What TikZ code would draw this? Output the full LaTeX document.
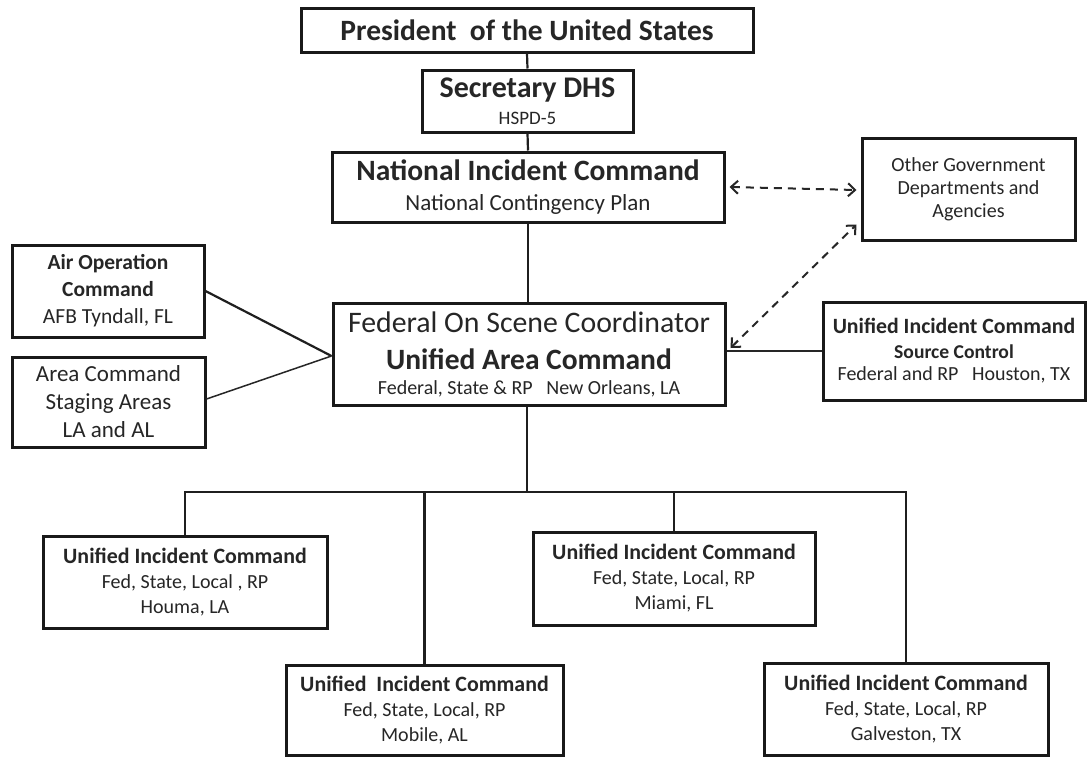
\documentclass[tikz,border=0pt]{standalone}
\usepackage{fontspec}
\setmainfont{Carlito}
\usetikzlibrary{arrows.meta,calc}
\newcommand{\fs}[2]{\fontsize{#1}{#2}\selectfont}
\begin{document}
\begin{tikzpicture}[x=1pt,y=-1pt,
  box/.style={draw=black!90, line width=3pt, align=center, inner sep=0pt, text=black!85},
  conn/.style={draw=black!88, line width=2.2pt},
  thin conn/.style={draw=black!85, line width=1.5pt},
  dconn/.style={draw=black!85, line width=2pt, dash pattern=on 8pt off 6pt,
    {Straight Barb[length=7pt,width=13pt]}-{Straight Barb[length=7pt,width=13pt]}}]
\useasboundingbox[fill=white] (0,0) rectangle (1092,758);
\node[box, minimum width=452pt, minimum height=44pt, font=\fs{29.5}{30}\bfseries] (pres) at (527,30)
  {President\ \ of the United States};
\node[box, minimum width=211pt, minimum height=62pt, font=\fs{19}{27}] (sec) at (527.5,101)
  {\fs{30}{27}\bfseries Secretary DHS\\HSPD-5};
\node[box, minimum width=392pt, minimum height=70pt, font=\fs{23}{30}] (nic) at (528,187)
  {\fs{29.5}{30}\bfseries National Incident Command\\National Contingency Plan};
\node[box, minimum width=213pt, minimum height=102pt, font=\fs{20}{23}] (other) at (968.5,189)
  {Other Government\\Departments and\\Agencies};
\node[box, minimum width=392pt, minimum height=102pt, font=\fs{20}{25}] (fed) at (529,354)
  {\fs{29.8}{25}Federal On Scene Coordinator\\[12pt]\fs{29.5}{25}\bfseries Unified Area Command\\Federal, State \& RP\ \ \ New Orleans, LA};
\node[box, minimum width=262pt, minimum height=98pt, font=\fs{20}{22}] (src) at (954,351)
  {\fs{21.8}{22}\bfseries Unified Incident Command\\[3pt]\fs{19.6}{22}\bfseries Source Control\\Federal and RP\ \ \ Houston, TX};
\node[box, minimum width=192pt, minimum height=92pt, font=\fs{21.5}{27}] (air) at (108,291)
  {\bfseries Air Operation\\\bfseries Command\\AFB Tyndall, FL};
\node[box, minimum width=193pt, minimum height=90pt, font=\fs{23}{28}] (area) at (108.5,402)
  {Area Command\\Staging Areas\\LA and AL};
\node[box, minimum width=284pt, minimum height=92pt, font=\fs{20}{25}] (houma) at (185,582)
  {\fs{21.9}{25}\bfseries Unified Incident Command\\Fed, State, Local , RP\\Houma, LA};
\node[box, minimum width=277pt, minimum height=90pt, font=\fs{20}{25}] (mobile) at (424.5,710)
  {\fs{21.9}{25}\bfseries Unified\ \ Incident Command\\Fed, State, Local, RP\\Mobile, AL};
\node[box, minimum width=282pt, minimum height=93pt, font=\fs{20}{25}] (miami) at (674,578.5)
  {\fs{21.9}{25}\bfseries Unified Incident Command\\Fed, State, Local, RP\\Miami, FL};
\node[box, minimum width=284pt, minimum height=92pt, font=\fs{20}{25}] (galv) at (906,709)
  {\fs{21.9}{25}\bfseries Unified Incident Command\\Fed, State, Local, RP\\Galveston, TX};
\coordinate (bus) at (527,492);
\draw[conn] (pres.south) -- (sec.north);
\draw[conn] (sec.south) -- (nic.north);
\draw[conn] (nic.south) -- (nic.south |- fed.north);
\draw[dconn] ($(nic.east)+(4,0)$) -- ($(other.west)+(-4,1)$);
\draw[dconn] ($(fed.east)+(4,-6)$) -- ($(other.south west)+(-4,-17)$);
\draw[thin conn] (src.west) -- (src.west -| fed.east);
\draw[conn] (air.east) -- ($(fed.west)+(0,2)$);
\draw[thin conn] ($(area.east)+(0,-3)$) -- ($(fed.west)+(0,2)$);
\draw[conn] (fed.south -| bus) -- (bus);
\draw[conn] (houma.north) |- (bus -| galv.north) -- (galv.north);
\draw[conn] (mobile.north) -- (mobile.north |- bus);
\draw[conn] (miami.north) -- (miami.north |- bus);
\end{tikzpicture}
\end{document}
